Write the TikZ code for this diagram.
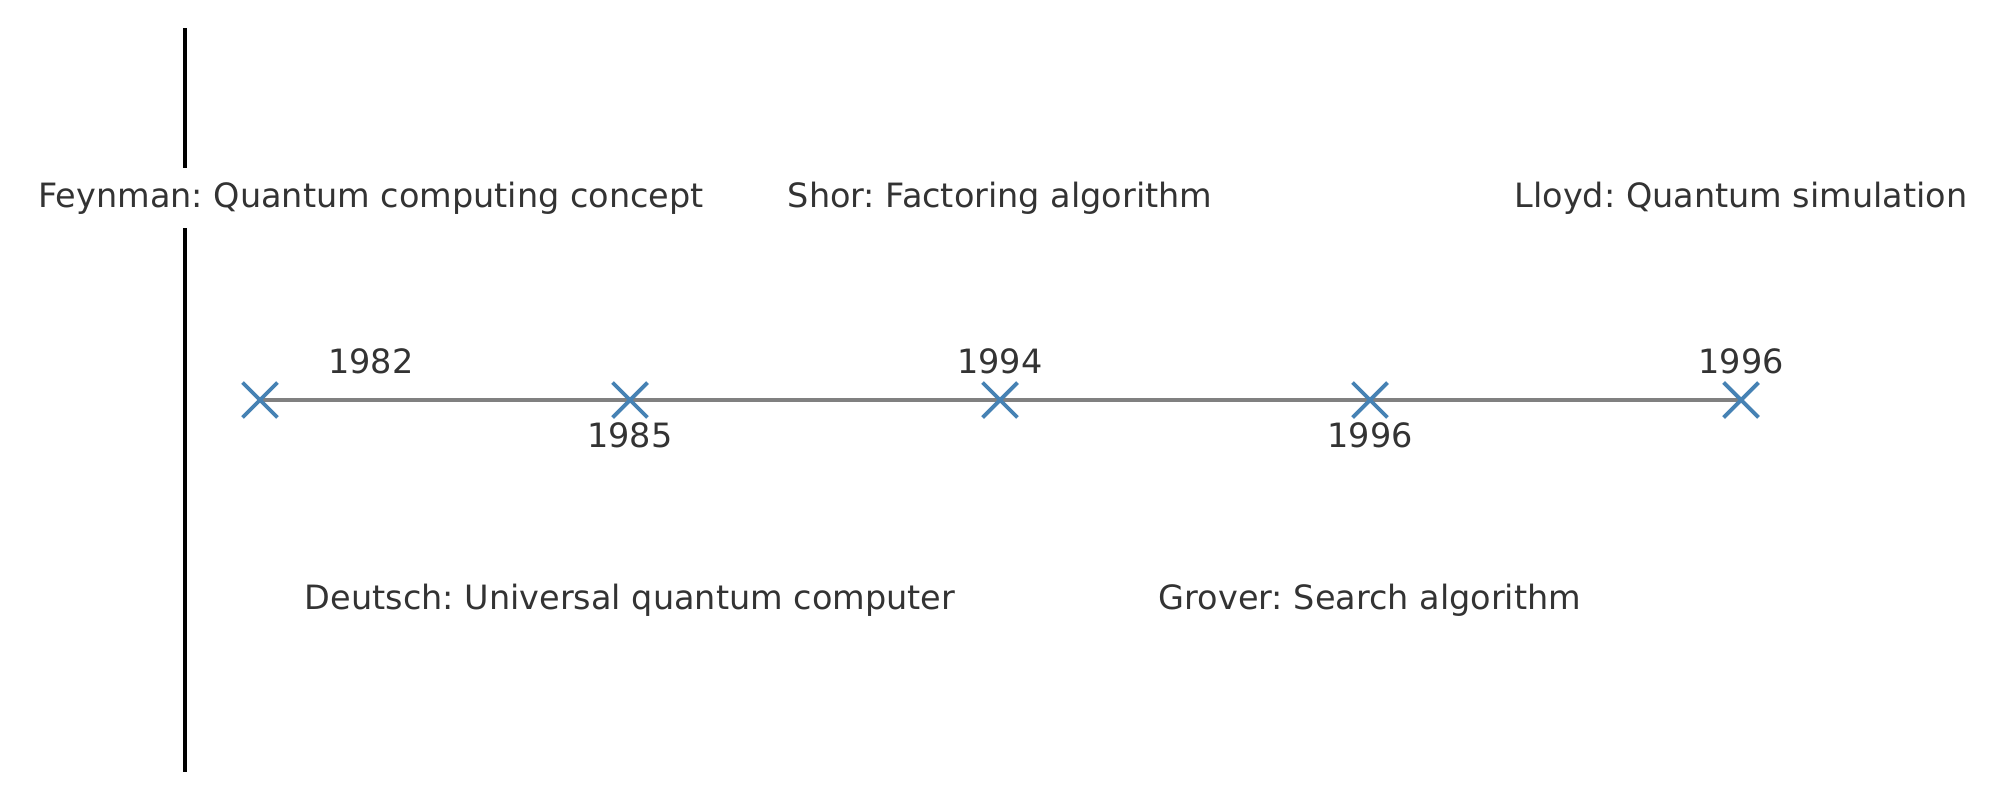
\documentclass[tikz,border=0pt]{standalone}
\usepackage{fontspec}
\setmainfont{DejaVu Sans}
\frenchspacing
\usetikzlibrary{shapes.misc,backgrounds}
\definecolor{txt}{HTML}{333333}
\definecolor{steel}{HTML}{4682B4}
\definecolor{tlgray}{HTML}{808080}
\tikzset{
  lbl/.style={text=txt, font=\fontsize{9.52}{11}\selectfont, inner sep=0pt},
  evt/.style={lbl, fill=white, inner xsep=2pt, inner ysep=4pt},
  marker/.style={draw=steel, cross out, minimum size=0.31cm, inner sep=0pt, line width=1.1pt},
  spine/.style={draw=black, line width=1.25pt},
  tline/.style={draw=tlgray, line width=1pt}
}
\begin{document}
\begin{tikzpicture}[x=0.01cm, y=-0.01cm]
\useasboundingbox (0,0) rectangle (2000,800);
\coordinate (st) at (185,28);
\coordinate (sb) at (185,772);
\draw[spine] (st) -- (sb);
\node[marker] (m1) at (260,400) {};
\node[marker] (m2) at (630,400) {};
\node[marker] (m3) at (1000,400) {};
\node[marker] (m4) at (1370,400) {};
\node[marker] (m5) at (1741,400) {};
\begin{pgfonlayer}{background}
\draw[tline] (m1.center) -- (m5.center);
\end{pgfonlayer}
\node[lbl] (y1) at (371,361) {1982};
\node[lbl] (y2) at (630,435) {1985};
\node[lbl] (y3) at (1000,361) {1994};
\node[lbl] (y4) at (1370,435) {1996};
\node[lbl] (y5) at (1741,361) {1996};
\node[evt] (e1) at (371,198) {Feynman: Quantum computing concept};
\node[evt] (e2) at (1000,198) {Shor: Factoring algorithm};
\node[evt] (e3) at (1741,198) {Lloyd: Quantum simulation};
\node[evt] (e4) at (630,600) {Deutsch: Universal quantum computer};
\node[evt] (e5) at (1370,600) {Grover: Search algorithm};
\end{tikzpicture}
\end{document}
